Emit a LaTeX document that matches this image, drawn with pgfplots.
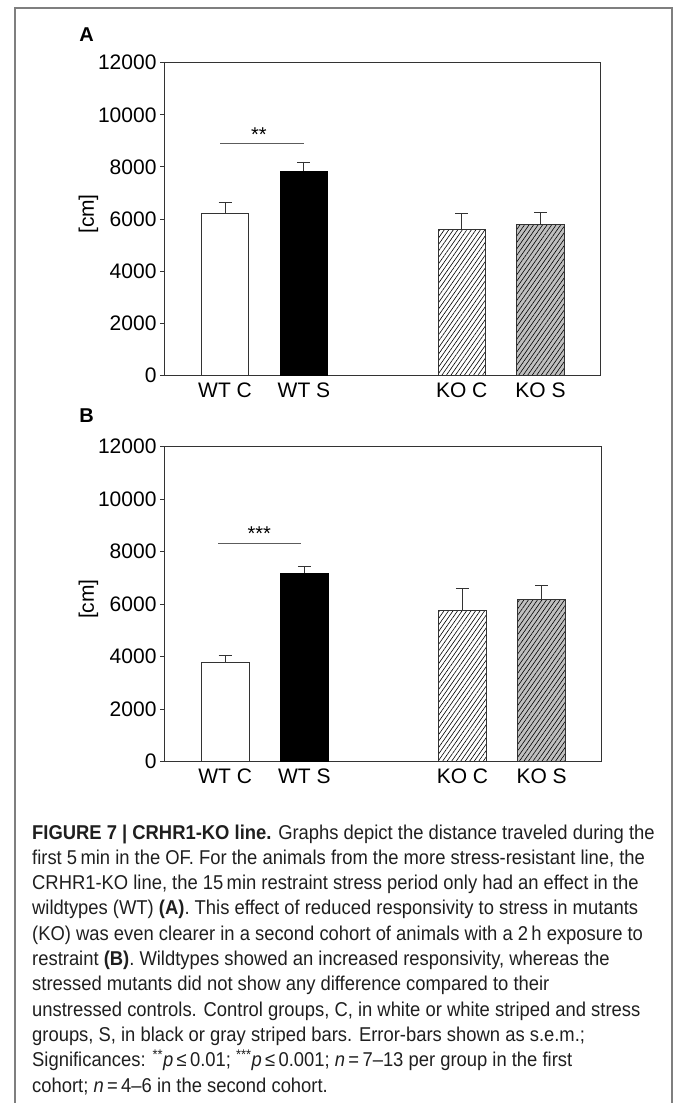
\documentclass[border=0pt]{standalone}
\usepackage{fontspec}
\setmainfont{Liberation Sans}
\newfontfamily\capfont{Liberation Sans}[FakeStretch=0.92]
\usepackage{pgfplots}
\pgfplotsset{compat=1.18}
\usetikzlibrary{patterns.meta}

\definecolor{axisgray}{HTML}{333333}
\definecolor{kosgray}{HTML}{C0C0C0}
\definecolor{framegray}{HTML}{7F7F7F}

\pgfplotsset{
  panel/.style={
    scale only axis,
    xmin=-0.774, xmax=4.76, ymin=0, ymax=12000,
    ytick={0,2000,...,12000},
    xtick={0,1,3,4}, xticklabels={WT C, WT S, KO C, KO S},
    x tick style={draw=none},
    ytick pos=left, tick align=outside, major tick length=4pt,
    axis line style={draw=axisgray, line width=0.9pt},
    y tick style={draw=axisgray, line width=0.9pt},
    ticklabel style={font=\fontsize{21}{21}\selectfont},
    /pgf/number format/assume math mode=true,
    scaled y ticks=false,
    yticklabel style={/pgf/number format/1000 sep={}},
    ybar, bar width=0.6, bar shift=0pt,
    error bars/y dir=plus, error bars/y explicit,
    error bars/error mark=|,
    error bars/error mark options={mark size=6.5pt, line width=0.9pt, draw=axisgray},
    error bars/error bar style={line width=0.9pt, draw=axisgray},
  },
  wtc/.style={draw=axisgray, line width=0.8pt, fill=white},
  wts/.style={draw=black, line width=0.8pt, fill=black},
  koc/.style={draw=axisgray, line width=0.8pt, fill=white,
    postaction={pattern={Lines[angle=55,distance=3.7pt,line width=0.6pt]}, pattern color=black}},
  kos/.style={draw=axisgray, line width=0.8pt, fill=kosgray,
    postaction={pattern={Lines[angle=55,distance=3.7pt,line width=0.6pt]}, pattern color=black}},
}

\begin{document}
\begin{tikzpicture}
\useasboundingbox (0,0) rectangle (673pt,-1103pt);

% outer frame, open at the bottom
\draw[framegray, line width=1.5pt] (15pt,-1110pt) |- (672pt,-8pt) -- (672pt,-1110pt);

% panel A
\node[font=\bfseries\fontsize{20}{20}\selectfont] at (86.5pt,-35pt) {A};
\node[rotate=90, font=\fontsize{21}{21}\selectfont] at (88.5pt,-214pt) {[cm]};
\begin{axis}[panel, at={(164pt,-375.3pt)}, anchor=south west,
    width=436.5pt, height=312.6pt]
  \addplot[wtc] coordinates {(0,6210) +- (0,420)};
  \addplot[wts] coordinates {(1,7830) +- (0,360)};
  \addplot[koc] coordinates {(3,5590) +- (0,610)};
  \addplot[kos] coordinates {(4,5800) +- (0,460)};
  \draw[axisgray!80, line width=0.8pt] (axis cs:-0.06,8890) -- (axis cs:1.0,8890);
  \node[anchor=base, inner sep=0pt, font=\fontsize{20}{20}\selectfont]
    at (axis cs:0.43,8990) {**};
\end{axis}

% panel B
\node[font=\bfseries\fontsize{20}{20}\selectfont] at (86.5pt,-416pt) {B};
\node[rotate=90, font=\fontsize{21}{21}\selectfont] at (88.5pt,-599pt) {[cm]};
\begin{axis}[panel, at={(164pt,-761.7pt)}, anchor=south west,
    width=437.7pt, height=315pt]
  \addplot[wtc] coordinates {(0,3780) +- (0,260)};
  \addplot[wts] coordinates {(1,7170) +- (0,280)};
  \addplot[koc] coordinates {(3,5750) +- (0,840)};
  \addplot[kos] coordinates {(4,6180) +- (0,520)};
  \draw[axisgray!80, line width=0.8pt] (axis cs:-0.09,8320) -- (axis cs:0.96,8320);
  \node[anchor=base, inner sep=0pt, font=\fontsize{20}{20}\selectfont]
    at (axis cs:0.43,8420) {***};
\end{axis}

% caption
\begin{scope}[every node/.style={anchor=base west, inner sep=0pt,
    font=\capfont\fontsize{20}{25}\selectfont, text=black!88}]
\node at (32pt,-839pt)   {\textbf{FIGURE 7 | CRHR1-KO line.} Graphs depict the distance traveled during the};
\node at (32pt,-864.3pt) {first 5\,min in the OF. For the animals from the more stress-resistant line, the};
\node at (32pt,-889.6pt) {CRHR1-KO line, the 15\,min restraint stress period only had an effect in the};
\node at (32pt,-914.9pt) {wildtypes (WT) \textbf{(A)}. This effect of reduced responsivity to stress in mutants};
\node at (32pt,-940.2pt) {(KO) was even clearer in a second cohort of animals with a 2\,h exposure to};
\node at (32pt,-965.5pt) {restraint \textbf{(B)}. Wildtypes showed an increased responsivity, whereas the};
\node at (32pt,-990.8pt) {stressed mutants did not show any difference compared to their};
\node at (32pt,-1016.1pt){unstressed controls. Control groups, C, in white or white striped and stress};
\node at (32pt,-1041.4pt){groups, S, in black or gray striped bars. Error-bars shown as s.e.m.;};
\node at (32pt,-1066.7pt){Significances: \textsuperscript{**}\textit{p}\,≤\,0.01; \textsuperscript{***}\textit{p}\,≤\,0.001; \textit{n}\,=\,7–13 per group in the first};
\node at (32pt,-1092pt)  {cohort; \textit{n}\,=\,4–6 in the second cohort.};
\end{scope}
\end{tikzpicture}
\end{document}
